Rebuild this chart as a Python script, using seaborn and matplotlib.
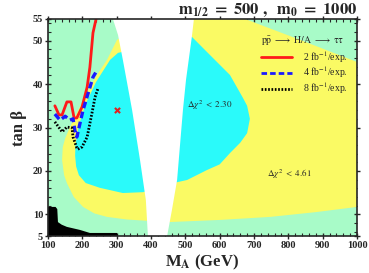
import numpy as np
import pandas as pd
import matplotlib
matplotlib.use("Agg")
import matplotlib.pyplot as plt
import seaborn as sns
from matplotlib.ticker import MultipleLocator, FixedLocator

# contour regions (M_A, tan beta)
yellow_x = [301, 272, 240, 214, 188, 164, 150, 143, 141, 147, 155, 175, 202, 235, 272, 330, 388,
            450, 600, 747, 880, 1000, 1000, 834, 674, 400]
yellow_y = [50.2, 45.6, 41.8, 38.0, 34.0, 30.1, 27.5, 25.5, 22.5, 19.0, 17.2, 14.0, 11.7, 10.2, 9.4, 8.8, 8.5,
            8.2, 8.7, 9.4, 10.5, 11.7, 45.1, 50.2, 55.0, 55.0]

cyan_x = [304, 281, 240, 210, 190, 180, 179, 182, 190, 210, 251, 318, 377,
          476, 505, 563, 600, 630, 660, 680, 688, 680, 668, 630, 563, 519]
cyan_y = [47.2, 45.6, 40.5, 35.5, 30.5, 26.0, 23.5, 21.0, 19.0, 17.2, 16.1, 14.9, 15.1,
          17.4, 17.9, 20.2, 21.5, 24.1, 26.5, 28.7, 32.0, 35.0, 36.8, 42.1, 47.4, 50.9]

wedge_x = [289, 304, 318, 345, 368, 385, 391, 447, 461, 476, 493, 502, 519, 525]
wedge_y = [55.0, 51.3, 45.6, 34.0, 22.5, 13.3, 5.0, 5.0, 11.0, 17.9, 34.0, 41.0, 50.9, 55.0]

black_x = [100, 100, 122, 127, 129, 140, 155, 193, 222, 301, 304]
black_y = [5.0, 11.7, 11.7, 11.2, 8.2, 7.6, 7.1, 6.4, 5.7, 5.7, 5.0]

# discovery contours
red_x = [120, 132, 141, 155, 167, 176, 184, 199, 214, 222, 231, 240]
red_y = [35.0, 32.9, 32.9, 35.9, 35.9, 32.2, 32.2, 34.7, 39.3, 43.9, 51.8, 55.0]

blue_x = [120, 135, 150, 164, 173, 179, 184, 202, 217, 231, 243]
blue_y = [33.1, 31.7, 32.6, 31.7, 32.0, 29.0, 27.8, 34.0, 37.9, 41.6, 43.2]

dot_x = [120, 141, 155, 170, 173, 184, 187, 199, 214, 228, 237, 246]
dot_y = [31.3, 29.0, 30.1, 29.9, 27.8, 25.3, 25.0, 25.5, 27.8, 33.3, 37.0, 39.1]

best_x = [301]
best_y = [34]

x_ticks = [100, 200, 300, 400, 500, 600, 700, 800, 900, 1000]
y_ticks = [5, 10, 20, 30, 40, 50, 55]

green = '#a8fbc8'
yellow = '#fafa64'
cyan = '#2afafa'

sns.set_style("ticks")
plt.rcParams['font.family'] = ['Liberation Serif', 'DejaVu Serif']
plt.rcParams['mathtext.fontset'] = 'stix'

fig = plt.figure(figsize=(3.69, 2.73), dpi=100)
ax = fig.add_axes([48/369, 37/273, 309/369, 217/273])
ax.set_facecolor(green)

ax.fill(yellow_x, yellow_y, color=yellow, lw=0)
ax.fill(cyan_x, cyan_y, color=cyan, lw=0)
ax.fill(wedge_x, wedge_y, color='white', lw=0)
ax.fill(black_x, black_y, color='black', lw=0)

lines = pd.DataFrame({
    'x': red_x + blue_x + dot_x,
    'y': red_y + blue_y + dot_y,
    'lum': ['2 fb$^{-1}$/exp.'] * len(red_x) + ['4 fb$^{-1}$/exp.'] * len(blue_x)
           + ['8 fb$^{-1}$/exp.'] * len(dot_x),
})
sns.lineplot(data=lines, x='x', y='y', hue='lum', style='lum', sort=False, estimator=None,
             palette=['#ff1a1a', '#1a1aff', 'black'],
             dashes=[(None, None), (2, 1.1), (0.6, 0.6)], lw=2, ax=ax)
for ln, w in zip(ax.get_lines(), [2.0, 2.4, 2.0]):
    ln.set_linewidth(w)
ax.scatter(best_x, best_y, marker='x', color='#e02020', s=14, lw=1.5, zorder=5)

ax.set_xlim(100, 1000)
ax.set_ylim(5, 55)
ax.xaxis.set_major_locator(FixedLocator(x_ticks))
ax.yaxis.set_major_locator(FixedLocator(y_ticks))
ax.xaxis.set_minor_locator(MultipleLocator(20))
ax.yaxis.set_minor_locator(FixedLocator(list(range(6, 55, 2))))
ax.tick_params(which='major', direction='inout', length=5, width=1, top=True, right=True, labelsize=7.5, pad=1)
ax.tick_params(which='minor', direction='in', length=2, width=0.8, top=True, right=True)
for lab in ax.get_xticklabels() + ax.get_yticklabels():
    lab.set_fontweight('bold')
for s in ax.spines.values():
    s.set_linewidth(1.2)

ax.set_xlabel('M$_\\mathbf{A}$ (GeV)', fontsize=12, fontweight='bold', labelpad=2)
ax.set_ylabel('tan β', fontsize=12, fontweight='bold', labelpad=4)
ax.set_title(r'$\mathbf{m_{1/2}\ =\ 500\ ,\ \ m_0\ =\ 1000}$', loc='right', fontsize=12, pad=3)

ax.text(0.689, 0.903, r'$\mathrm{p\bar{p}\ \longrightarrow\ H/A\ \longrightarrow\ \tau\tau}$',
        transform=ax.transAxes, fontsize=7, va='center', ha='left')
ax.legend(loc='upper left', bbox_to_anchor=(0.689, 0.862), frameon=False, fontsize=7,
          handlelength=3.2, handletextpad=1.1, labelspacing=0.02, borderpad=0, borderaxespad=0)

ax.text(505, 35.2, r'$\Delta\chi^2\ <\ 2.30$', fontsize=6.5, va='center', ha='left')
ax.text(738, 19.3, r'$\Delta\chi^2\ <\ 4.61$', fontsize=6.5, va='center', ha='left')

plt.savefig('out.png', dpi=100)
